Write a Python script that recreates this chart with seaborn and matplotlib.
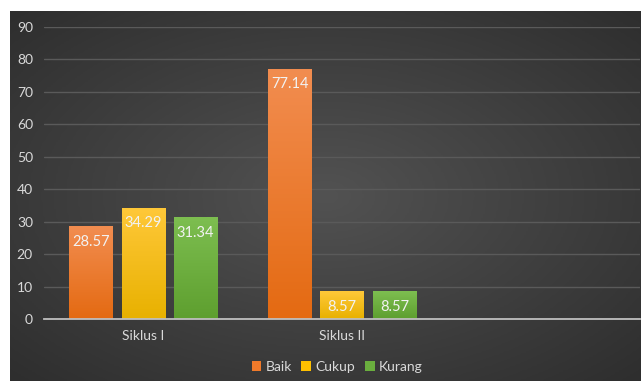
import numpy as np
import pandas as pd
import matplotlib
matplotlib.use("Agg")
import matplotlib.pyplot as plt
import matplotlib.colors as mcolors
from matplotlib.patches import Patch
import seaborn as sns

# ---- data ----
categories = ["Siklus I", "Siklus II"]
series = ["Baik", "Cukup", "Kurang"]
baik = [28.57, 77.14]
cukup = [34.29, 8.57]
kurang = [31.34, 8.57]
yticks = [0, 10, 20, 30, 40, 50, 60, 70, 80, 90]

# gradient colours (top, bottom)
grad = {
    "Baik": ("#F28D50", "#E46A12"),
    "Cukup": ("#FFC839", "#E8B100"),
    "Kurang": ("#7DBE50", "#5E9F2F"),
}
legend_col = {"Baik": "#F07A2A", "Cukup": "#FFC000", "Kurang": "#6AAE3E"}

df = pd.DataFrame({
    "cat": categories * 3,
    "series": [s for s in series for _ in categories],
    "val": baik + cukup + kurang,
})

sns.set_theme(style="dark")
plt.rcParams["font.family"] = ["Lato", "DejaVu Sans"]

W, H = 641, 381
fig = plt.figure(figsize=(W / 100, H / 100), dpi=100)
fig.patch.set_facecolor("white")

# background with radial gradient
bg = fig.add_axes([10 / W, 0, (W - 10) / W, (H - 11) / H])
bg.set_axis_off()
yy, xx = np.mgrid[-1:1:200j, -1:1:340j]
r = np.sqrt(xx ** 2 + yy ** 2)
r = np.clip(r / 1.414, 0, 1)
cmap_bg = mcolors.LinearSegmentedColormap.from_list("bg", ["#525252", "#2E2E2E"])
bg.imshow(r, cmap=cmap_bg, aspect="auto", extent=[0, 1, 0, 1], vmin=0, vmax=1)
bg.set_xlim(0, 1)
bg.set_ylim(0, 1)

# main axes
left, right = 44 / W, 640 / W
bottom = (H - 319) / H
top = (H - 27) / H
ax = fig.add_axes([left, bottom, right - left, top - bottom])
ax.set_facecolor("none")

sns.barplot(data=df, x="cat", y="val", hue="series", order=categories,
            hue_order=series, palette=[legend_col[s] for s in series],
            width=0.79, gap=0.17, ax=ax, legend=False, saturation=1)

ax.set_xlim(-0.5, 2.5)
ax.set_ylim(0, 90)
ax.set_yticks(yticks)
ax.set_yticklabels([str(t) for t in yticks])
ax.grid(axis="y", color="#5A5A5A", linewidth=1.0)
ax.grid(axis="x", visible=False)
ax.set_axisbelow(True)
for s in ["top", "right", "left"]:
    ax.spines[s].set_visible(False)
ax.spines["bottom"].set_color("#BFBFBF")
ax.spines["bottom"].set_linewidth(1.3)
ax.spines["bottom"].set_zorder(5)
ax.set_xlabel("")
ax.set_ylabel("")
ax.tick_params(axis="both", length=0, colors="#D9D9D9", labelsize=10)
ax.tick_params(axis="y", pad=8)
ax.tick_params(axis="x", pad=8)

# gradient fill of bars + labels
vals_by_series = {"Baik": baik, "Cukup": cukup, "Kurang": kurang}
for container, s in zip(ax.containers, series):
    c_top, c_bot = grad[s]
    cm = mcolors.LinearSegmentedColormap.from_list(s, [c_bot, c_top])
    for patch, v in zip(container.patches, vals_by_series[s]):
        x0 = patch.get_x()
        w = patch.get_width()
        h = patch.get_height()
        patch.set_facecolor("none")
        patch.set_edgecolor("none")
        g = np.linspace(0, 1, 100).reshape(-1, 1)
        im = ax.imshow(g, cmap=cm, origin="lower", aspect="auto",
                       extent=[x0, x0 + w, 0, h], zorder=2)
        im.set_clip_path(patch)
        ax.annotate(f"{v:.2f}", (x0 + w / 2, h), xytext=(0, -6),
                    textcoords="offset points", ha="center", va="top",
                    color="#F2F2F2", fontsize=10.5, zorder=4)
ax.set_xlim(-0.5, 2.5)
ax.set_ylim(0, 90)

handles = [Patch(facecolor=legend_col[s], edgecolor="none", label=s) for s in series]
leg = fig.legend(handles=handles, loc="center", bbox_to_anchor=(337 / W, (H - 367) / H),
                 ncol=3, frameon=False, fontsize=10, handlelength=0.7,
                 handleheight=0.7, handletextpad=0.3, columnspacing=0.7)
for t in leg.get_texts():
    t.set_color("#D9D9D9")

fig.savefig("out.png", dpi=100, facecolor=fig.get_facecolor())
